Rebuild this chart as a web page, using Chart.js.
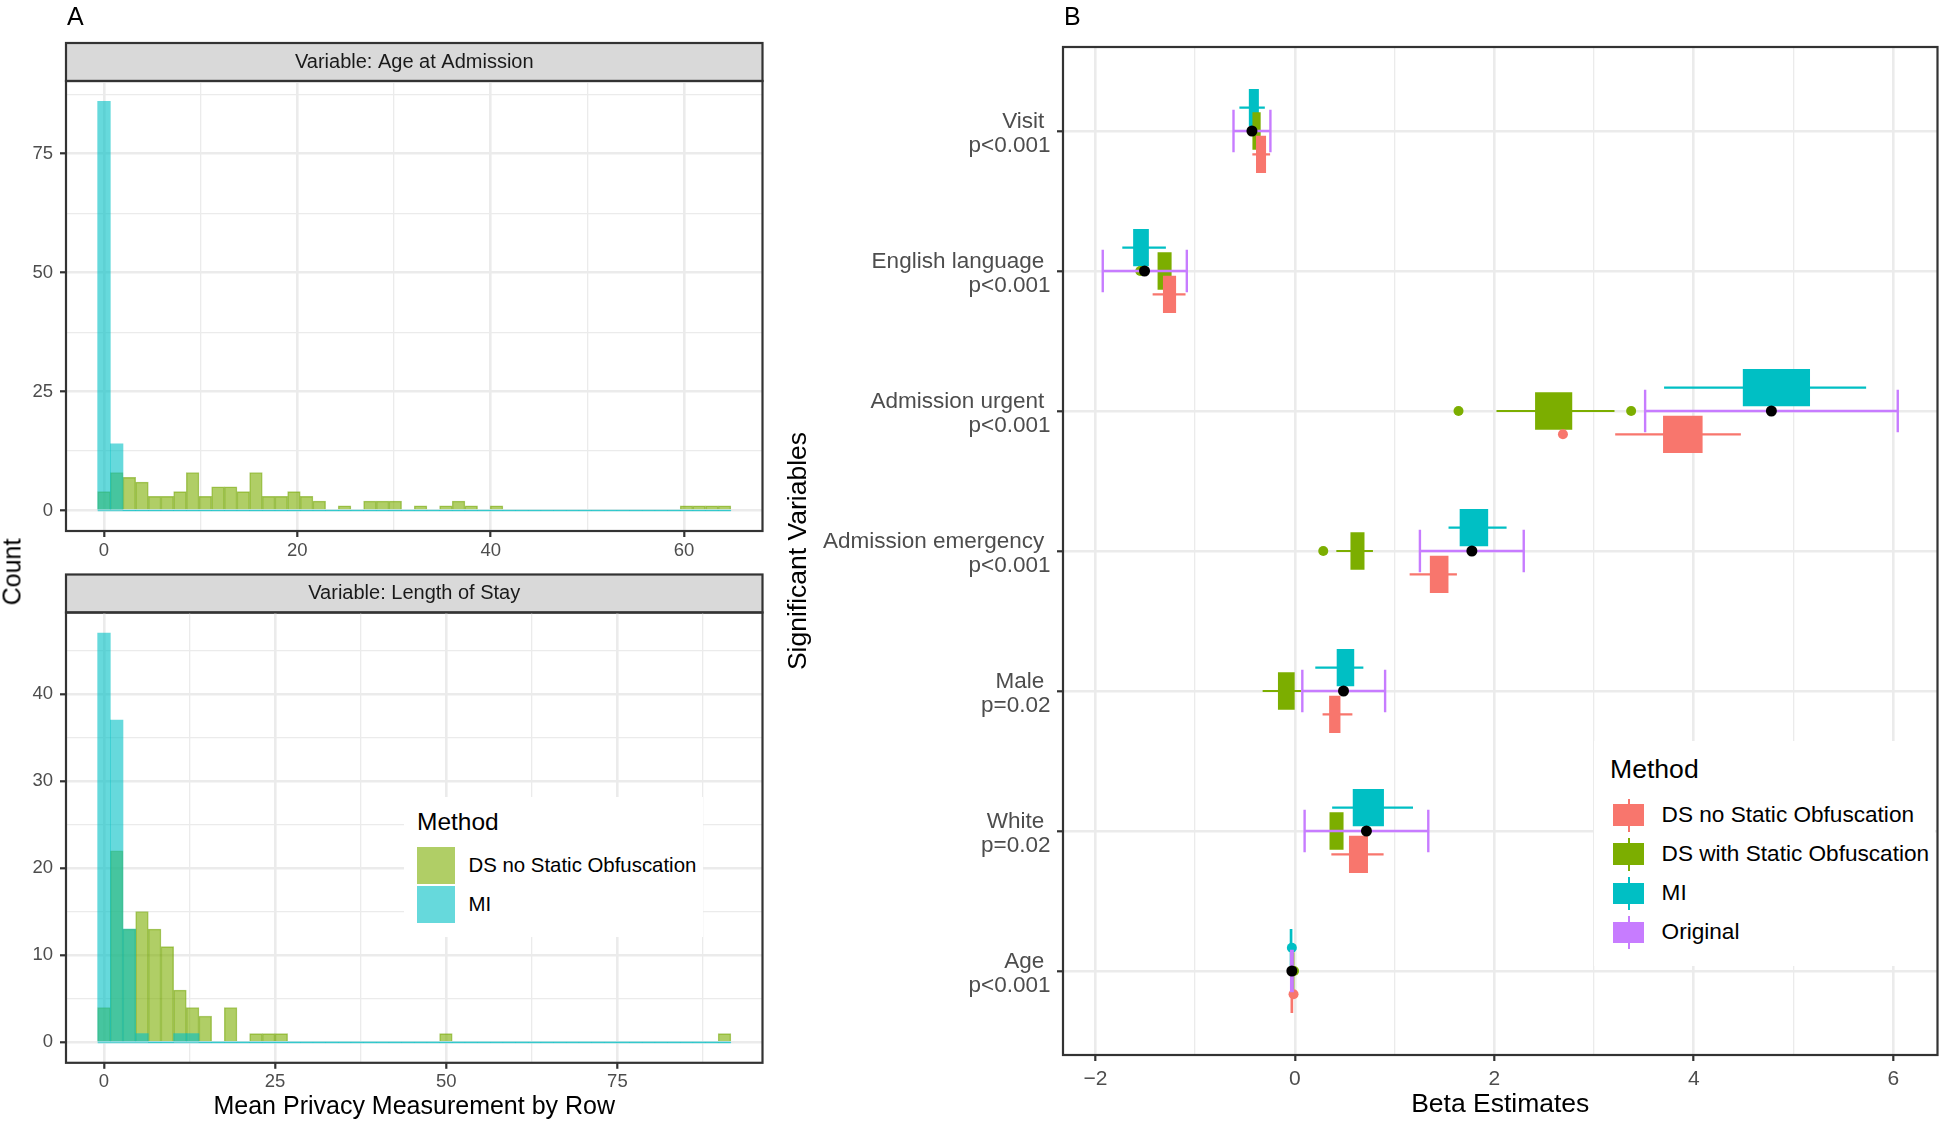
<!DOCTYPE html>
<html>
<head>
<meta charset="utf-8">
<title>Privacy measurement and beta estimates</title>
<script src="https://cdn.jsdelivr.net/npm/chart.js@4.4.1/dist/chart.umd.min.js"></script>
<style>
  body { margin: 0; background: #fff; font-family: "Liberation Sans", Arial, sans-serif; }
  #page { position: relative; width: 1943px; height: 1125px; overflow: hidden; background: #fff; }
  canvas { position: absolute; }
  .txt { position: absolute; white-space: nowrap; color: #000; }
  .legend { position: absolute; background: #fff; }
  .key { position: absolute; }
</style>
</head>
<body>
<div id="page">
  <canvas id="ageChart" width="780" height="565" style="left:0;top:0"></canvas>
  <canvas id="stayChart" width="780" height="560" style="left:0;top:565px"></canvas>
  <canvas id="betaChart" width="1163" height="1125" style="left:780px;top:0"></canvas>
</div>
<script>
// ---------- panel A: histograms (50 bins each) ----------
const histMethods = ["DS no Static Obfuscation", "MI"];

const ageBinWidth = 1.31;
const ageDS = [4, 8, 7, 6, 3, 3, 4, 8, 3, 5,
               5, 4, 8, 3, 3, 4, 3, 2, 0, 1,
               0, 2, 2, 2, 0, 1, 0, 1, 2, 1,
               0, 1, 0, 0, 0, 0, 0, 0, 0, 0,
               0, 0, 0, 0, 0, 0, 1, 1, 1, 1];
const ageMI = [86, 14, 0, 0, 0, 0, 0, 0, 0, 0,
               0, 0, 0, 0, 0, 0, 0, 0, 0, 0,
               0, 0, 0, 0, 0, 0, 0, 0, 0, 0,
               0, 0, 0, 0, 0, 0, 0, 0, 0, 0,
               0, 0, 0, 0, 0, 0, 0, 0, 0, 0];
const ageXMajor = [0, 20, 40, 60], ageXMinor = [10, 30, 50];
const ageYMajor = [0, 25, 50, 75], ageYMinor = [12.5, 37.5, 62.5, 87.5];

const stayBinWidth = 1.85;
const stayDS = [4, 22, 13, 15, 13, 11, 6, 4, 3, 0,
                4, 0, 1, 1, 1, 0, 0, 0, 0, 0,
                0, 0, 0, 0, 0, 0, 0, 1, 0, 0,
                0, 0, 0, 0, 0, 0, 0, 0, 0, 0,
                0, 0, 0, 0, 0, 0, 0, 0, 0, 1];
const stayMI = [47, 37, 13, 1, 0, 0, 1, 1, 0, 0,
                0, 0, 0, 0, 0, 0, 0, 0, 0, 0,
                0, 0, 0, 0, 0, 0, 0, 0, 0, 0,
                0, 0, 0, 0, 0, 0, 0, 0, 0, 0,
                0, 0, 0, 0, 0, 0, 0, 0, 0, 0];
const stayXMajor = [0, 25, 50, 75], stayXMinor = [12.5, 37.5, 62.5, 87.5];
const stayYMajor = [0, 10, 20, 30, 40], stayYMinor = [5, 15, 25, 35, 45];

// ---------- panel B: beta estimates ----------
const variables = ["Visit", "English language", "Admission urgent", "Admission emergency", "Male", "White", "Age"];
const pValues = ["p<0.001", "p<0.001", "p<0.001", "p<0.001", "p=0.02", "p=0.02", "p<0.001"];
const methods = ["DS no Static Obfuscation", "DS with Static Obfuscation", "MI", "Original"];
const methodColors = ["#F8766D", "#7CAE00", "#00BFC4", "#C77CFF"];

const dsNoMin = [-0.426, -1.426, 3.212, 1.151, 0.278, 0.366, -0.034];
const dsNoQ1  = [-0.386, -1.319, 3.695, 1.357, 0.347, 0.546, -0.028];
const dsNoQ3  = [-0.292, -1.194, 4.085, 1.537, 0.454, 0.730, -0.020];
const dsNoMax = [-0.248, -1.096, 4.472, 1.625, 0.577, 0.890, -0.016];
const dsNoOut = [[], [], [2.688], [], [], [], [-0.013]];

const dsWithMin = [-0.440, -1.390, 2.022, 0.416, -0.323, 0.335, -0.020];
const dsWithQ1  = [-0.422, -1.373, 2.412, 0.561, -0.166, 0.351, -0.016];
const dsWithQ3  = [-0.346, -1.239, 2.778, 0.695, -0.005, 0.485, -0.008];
const dsWithMax = [-0.330, -1.225, 3.205, 0.783, 0.064, 0.500, -0.002];
const dsWithOut = [[], [-1.55], [1.641, 3.372], [0.285], [], [], [-0.008]];

const miMin = [-0.556, -1.730, 3.702, 1.541, 0.205, 0.374, -0.042];
const miQ1  = [-0.458, -1.618, 4.495, 1.656, 0.423, 0.584, -0.036];
const miQ3  = [-0.364, -1.467, 5.162, 1.935, 0.592, 0.890, -0.028];
const miMax = [-0.301, -1.293, 5.728, 2.123, 0.687, 1.185, -0.022];
const miOut = [[], [], [], [], [], [], [-0.030]];

const origLow  = [-0.615, -1.926, 3.512, 1.254, 0.075, 0.098, -0.037];
const origEst  = [-0.430, -1.507, 4.778, 1.775, 0.488, 0.718, -0.030];
const origHigh = [-0.245, -1.083, 6.045, 2.295, 0.905, 1.338, -0.022];

const betaXMajor = [-2, 0, 2, 4, 6], betaXMinor = [-1, 1, 3, 5];

// ---------- styling ----------
const GRID = "#EBEBEB", DARK = "#333333", TICK_TXT = "#4D4D4D";
const DS_FILL = "rgba(124,174,0,0.6)", MI_FILL = "rgba(0,191,196,0.6)";
Chart.defaults.font.family = '"Liberation Sans", Arial, sans-serif';
Chart.defaults.color = TICK_TXT;

const fmt = v => v < 0 ? "\u2212" + Math.abs(v) : String(v);

const panelBorder = {
  id: "panelBorder",
  afterDraw(chart) {
    const { ctx, chartArea: a } = chart;
    ctx.save();
    ctx.strokeStyle = DARK;
    ctx.lineWidth = 2.2;
    ctx.strokeRect(a.left, a.top, a.right - a.left, a.bottom - a.top);
    ctx.restore();
  }
};

const stripBg = {
  id: "stripBg",
  beforeDraw(chart) {
    const { ctx, chartArea: a } = chart;
    ctx.save();
    ctx.fillStyle = "#D9D9D9";
    ctx.fillRect(a.left, a.top - 38, a.right - a.left, 38);
    ctx.strokeStyle = DARK;
    ctx.lineWidth = 2.2;
    ctx.strokeRect(a.left, a.top - 38, a.right - a.left, 38);
    ctx.restore();
  }
};

function gridAxis(major, minor, fontSize, pad) {
  const isMajor = v => major.includes(v);
  return {
    type: "linear",
    offset: false,
    beginAtZero: false,
    afterBuildTicks: s => {
      s.ticks = major.concat(minor).sort((a, b) => a - b).map(v => ({ value: v }));
    },
    grid: {
      offset: false,
      color: GRID,
      lineWidth: c => (c.tick && isMajor(c.tick.value)) ? 2.6 : 1.3,
      drawTicks: true,
      tickLength: 6,
      tickWidth: 2.2,
      tickColor: c => (c.tick && isMajor(c.tick.value)) ? DARK : "rgba(0,0,0,0)"
    },
    border: { display: false },
    ticks: {
      autoSkip: false,
      maxRotation: 0,
      padding: pad,
      color: TICK_TXT,
      font: { size: fontSize },
      callback: v => isMajor(v) ? fmt(v) : ""
    }
  };
}

function histogram(canvasId, title, binWidth, dsCounts, miCounts, xMajor, xMinor, yMajor, yMinor, geo) {
  const centers = dsCounts.map((_, i) => i * binWidth);
  const lo = -binWidth / 2;
  const hi = centers[centers.length - 1] + binWidth / 2;
  const xPad = (hi - lo) * 0.05;
  const yMax = Math.max(...dsCounts, ...miCounts);

  const x = gridAxis(xMajor, xMinor, 18.5, 2.5);
  x.min = lo - xPad;
  x.max = hi + xPad;
  x.afterFit = s => { s.height = geo.xHeight; };
  if (geo.xTitle) {
    x.title = { display: true, text: geo.xTitle, color: "#000", font: { size: 25 }, padding: { top: 0, bottom: 3 } };
  }
  const y = gridAxis(yMajor, yMinor, 18.5, 7);
  y.min = -yMax * 0.05;
  y.max = yMax * 1.05;
  y.afterFit = s => { s.width = 66; };

  return new Chart(document.getElementById(canvasId), {
    type: "bar",
    data: {
      datasets: [
        { type: "line", data: [{ x: lo, y: 0 }, { x: hi, y: 0 }], borderColor: "rgba(0,191,196,0.6)",
          borderWidth: 1.6, pointRadius: 0, order: 0 },
        { label: histMethods[1], data: centers.map((c, i) => ({ x: c, y: miCounts[i] })),
          backgroundColor: MI_FILL, borderWidth: 0, order: 1 },
        { label: histMethods[0], data: centers.map((c, i) => ({ x: c, y: dsCounts[i] })),
          backgroundColor: DS_FILL, borderColor: "rgba(110,160,0,0.55)", borderWidth: 0.8, order: 2 }
      ]
    },
    options: {
      responsive: false,
      animation: false,
      layout: { padding: { top: geo.top, right: 17.5, left: 0, bottom: 0 } },
      datasets: { bar: { grouped: false, barPercentage: 1, categoryPercentage: 1 } },
      plugins: {
        legend: { display: false },
        tooltip: { enabled: false },
        title: { display: true, text: title, fullSize: false, color: "#1A1A1A",
                 font: { size: 20, weight: "normal" }, padding: { top: 7, bottom: 7 } }
      },
      scales: { x, y }
    },
    plugins: [stripBg, panelBorder]
  });
}

histogram("ageChart", "Variable: Age at Admission", ageBinWidth, ageDS, ageMI,
  ageXMajor, ageXMinor, ageYMajor, ageYMinor, { top: 43, xHeight: 34 });
histogram("stayChart", "Variable: Length of Stay", stayBinWidth, stayDS, stayMI,
  stayXMajor, stayXMinor, stayYMajor, stayYMinor, { top: 9.5, xHeight: 62.2, xTitle: "Mean Privacy Measurement by Row" });

// ---------- panel B chart ----------
const DODGE = 1 / 6, BOX_PX = 36.7, CAP = 0.152;
const boxMethods = [
  { color: methodColors[0], off: DODGE, min: dsNoMin, q1: dsNoQ1, q3: dsNoQ3, max: dsNoMax, out: dsNoOut },
  { color: methodColors[1], off: 0, min: dsWithMin, q1: dsWithQ1, q3: dsWithQ3, max: dsWithMax, out: dsWithOut },
  { color: methodColors[2], off: -DODGE, min: miMin, q1: miQ1, q3: miQ3, max: miMax, out: miOut }
];

const betaSets = [];
boxMethods.forEach(m => {
  betaSets.push({
    type: "line",
    data: variables.flatMap((_, i) => {
      const y = i + 1 + m.off;
      return [{ x: m.min[i], y }, { x: m.max[i], y }, { x: m.max[i], y: null }];
    }),
    borderColor: m.color, borderWidth: 2.2, pointRadius: 0, spanGaps: false, fill: false, order: 4
  });
  betaSets.push({
    type: "bar",
    indexAxis: "y",
    data: variables.map((_, i) => ({ y: i + 1 + m.off, x: [m.q1[i], m.q3[i]] })),
    backgroundColor: m.color, borderWidth: 0, barThickness: BOX_PX, grouped: false, minBarLength: 2, order: 3
  });
  betaSets.push({
    type: "scatter",
    data: m.out.flatMap((vals, i) => vals.map(v => ({ x: v, y: i + 1 + m.off }))),
    backgroundColor: m.color, pointBorderWidth: 0, pointRadius: 5, order: 2
  });
});
betaSets.push({
  type: "line",
  data: variables.flatMap((_, i) => {
    const y = i + 1;
    return [
      { x: origLow[i], y }, { x: origHigh[i], y }, { x: origHigh[i], y: null },
      { x: origLow[i], y: y - CAP }, { x: origLow[i], y: y + CAP }, { x: origLow[i], y: null },
      { x: origHigh[i], y: y - CAP }, { x: origHigh[i], y: y + CAP }, { x: origHigh[i], y: null }
    ];
  }),
  borderColor: methodColors[3], borderWidth: 2.4, pointRadius: 0, spanGaps: false, fill: false, order: 1
});
betaSets.push({
  type: "scatter",
  data: origEst.map((v, i) => ({ x: v, y: i + 1 })),
  backgroundColor: "#000000", pointBorderWidth: 0, pointRadius: 5.5, order: 0
});

const allBeta = [].concat(dsNoMin, dsNoMax, dsWithMin, dsWithMax, miMin, miMax, origLow, origHigh, ...dsWithOut, ...dsNoOut);
const bLo = Math.min(...allBeta), bHi = Math.max(...allBeta);
const bPad = (bHi - bLo) * 0.05;

const bx = gridAxis(betaXMajor, betaXMinor, 21, 5.4);
bx.min = bLo - bPad;
bx.max = bHi + bPad;
bx.afterFit = s => { s.height = 70; };
bx.title = { display: true, text: "Beta Estimates", color: "#000", font: { size: 26.5 }, padding: { top: 0, bottom: 4.1 } };

const by = {
  type: "linear",
  reverse: true,
  offset: false,
  beginAtZero: false,
  min: 0.4,
  max: variables.length + 0.6,
  afterBuildTicks: s => { s.ticks = variables.map((_, i) => ({ value: i + 1 })); },
  afterFit: s => { s.width = 283; },
  grid: { offset: false, color: GRID, lineWidth: 2.6, drawTicks: true, tickLength: 6, tickWidth: 2.2, tickColor: DARK },
  border: { display: false },
  ticks: {
    autoSkip: false,
    padding: 6.5,
    labelOffset: 2.5,
    color: TICK_TXT,
    font: { size: 22.5, lineHeight: "23.6px" },
    callback: v => [variables[v - 1] + " ", pValues[v - 1]]
  },
  title: { display: true, text: "Significant Variables", color: "#000", font: { size: 26.5 }, padding: { top: 3.1, bottom: 0 } }
};

new Chart(document.getElementById("betaChart"), {
  type: "bar",
  data: { datasets: betaSets },
  options: {
    responsive: false,
    animation: false,
    layout: { padding: { top: 47, right: 5, left: 0, bottom: 0 } },
    plugins: { legend: { display: false }, tooltip: { enabled: false } },
    scales: { x: bx, y: by }
  },
  plugins: [panelBorder]
});

// ---------- text and legends ----------
const page = document.getElementById("page");
function addText(str, left, cy, size, extra) {
  const d = document.createElement("div");
  d.className = "txt";
  d.textContent = str;
  Object.assign(d.style, { left: left + "px", top: (cy - size / 2) + "px", fontSize: size + "px", lineHeight: size + "px" }, extra || {});
  page.appendChild(d);
  return d;
}
function addBox(cls, left, top, w, h, bg) {
  const d = document.createElement("div");
  d.className = cls;
  Object.assign(d.style, { left: left + "px", top: top + "px", width: w + "px", height: h + "px", background: bg });
  page.appendChild(d);
  return d;
}

addText("A", 67, 16, 25);
addText("B", 1064, 16, 25);
const countLabel = addText("Count", 12.4, 572, 25);
countLabel.style.left = "12.4px";
countLabel.style.top = "572px";
countLabel.style.transform = "translate(-50%, -50%) rotate(-90deg)";

// legend in panel A
addBox("legend", 404, 797, 299, 140, "#fff");
addText("Method", 417, 822, 24.5);
[DS_FILL, MI_FILL].forEach((fill, i) => {
  addBox("key", 417, 846.5 + i * 39.5, 38, 37, fill);
  addText(histMethods[i], 468.5, 865 + i * 39.5, 20.4);
});

// legend in panel B
addBox("legend", 1594, 741, 341, 225, "#fff");
addText("Method", 1610, 769, 26.6);
methods.forEach((name, i) => {
  const cy = 815 + i * 39.2;
  addBox("key", 1627.5, cy - 16.5, 2, 33, methodColors[i]);
  addBox("key", 1612.7, cy - 10.75, 31.5, 21.5, methodColors[i]);
  addText(name, 1661.6, cy, 22.6);
});
</script>
</body>
</html>
